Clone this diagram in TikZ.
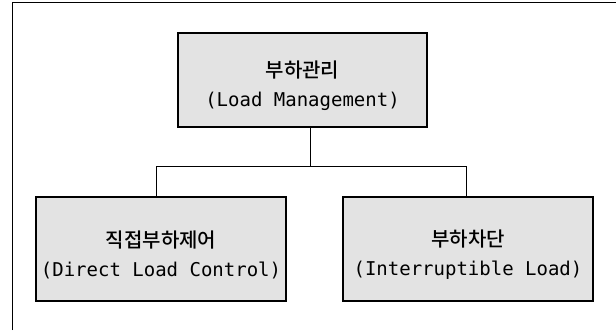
\documentclass[tikz,border=0pt]{standalone}
\usepackage{fontspec}
\setmonofont{DejaVu Sans Mono}
\newfontfamily\kofont{Noto Sans CJK KR}[BoldFont={* Medium}]
\usetikzlibrary{positioning}

\tikzset{
  levelbox/.style={draw, line width=1.1pt, fill=gray!22, minimum height=#1,
    align=center, inner sep=0pt, font=\fontsize{19}{29}\selectfont},
}
\newcommand{\kortext}[1]{{\kofont\bfseries\fontsize{20}{29}\selectfont\rule{0pt}{28pt}#1}}
\newcommand{\engtext}[1]{{\ttfamily\fontsize{19}{29}\selectfont #1}}

\begin{document}
\begin{tikzpicture}[x=1pt,y=1pt]
  \useasboundingbox (0,0) rectangle (616,330);
  % frame
  \draw[line width=0.8pt] (12,0) -- (12,328) -- (616,328);

  \node[levelbox=94pt, minimum width=249pt] (load) at (302.5,250)
    {\kortext{부하관리}\\\engtext{(Load Management)}};
  \node[levelbox=104pt, minimum width=250pt] (direct) at (161,81)
    {\kortext{직접부하제어}\\\engtext{(Direct Load Control)}};
  \node[levelbox=104pt, minimum width=250pt] (inter) at (468,81)
    {\kortext{부하차단}\\\engtext{(Interruptible Load)}};

  \draw[line width=0.8pt] ([xshift=8pt]load.south) -- ++(0,-39) coordinate (bus);
  \draw[line width=0.8pt] ([xshift=-5pt]direct.north) |- (bus) -| ([xshift=-2pt]inter.north);
\end{tikzpicture}
\end{document}
